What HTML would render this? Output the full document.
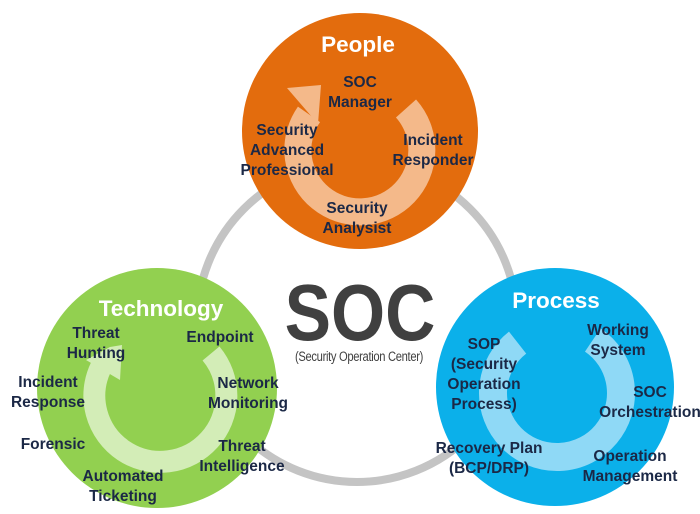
<!DOCTYPE html>
<html><head><meta charset="utf-8"><style>
html,body{margin:0;padding:0;background:#fff;}
svg{display:block;}
.t{font-family:"Liberation Sans",sans-serif;font-weight:bold;font-size:15.5px;fill:#1b2846;text-anchor:middle;}
.h{font-family:"Liberation Sans",sans-serif;font-weight:bold;font-size:22.5px;fill:#fff;text-anchor:middle;}
</style></head><body>
<svg width="700" height="514" viewBox="0 0 700 514" xmlns="http://www.w3.org/2000/svg">
<circle cx="357" cy="322" r="160" fill="none" stroke="#c4c4c4" stroke-width="8"/>
<!-- People -->
<circle cx="360" cy="131" r="118" fill="#e36c0d"/>
<path d="M406 108.5 A62 62 0 1 1 309 114.4" fill="none" stroke="#f4b98a" stroke-width="27"/>
<polygon points="287,88 321,85 318,124" fill="#f4b98a"/>
<!-- Technology -->
<circle cx="157" cy="388" r="120" fill="#92d050"/>
<path d="M211 353.5 A66 66 0 1 1 101 367" fill="none" stroke="#d3edb7" stroke-width="22"/>
<polygon points="86,360 110,347 122,345 120,380" fill="#d3edb7"/>
<!-- Process -->
<circle cx="555" cy="387" r="119" fill="#0bb0ea"/>
<path d="M517.6 342.6 A64 64 0 1 0 592.8 340" fill="none" stroke="#8fd9f6" stroke-width="28"/>
<!-- SOC -->
<text x="360" y="340" font-family="Liberation Sans, sans-serif" font-weight="bold" font-size="80" fill="#404040" text-anchor="middle" transform="translate(360 0) scale(0.87 1) translate(-360 0)">SOC</text>
<text x="359" y="361" font-family="Liberation Sans, sans-serif" font-size="14" fill="#404040" text-anchor="middle" transform="translate(359 0) scale(0.8 1) translate(-359 0)" letter-spacing="-0.4">(Security Operation Center)</text>
<!-- titles -->
<text class="h" x="358" y="52">People</text>
<text class="h" x="161" y="316">Technology</text>
<text class="h" x="556" y="308">Process</text>
<!-- People labels -->
<text class="t" x="360" y="87">SOC</text>
<text class="t" x="360" y="107">Manager</text>
<text class="t" x="287" y="135">Security</text>
<text class="t" x="287" y="155">Advanced</text>
<text class="t" x="287" y="175">Professional</text>
<text class="t" x="433" y="145">Incident</text>
<text class="t" x="433" y="165">Responder</text>
<text class="t" x="357" y="213">Security</text>
<text class="t" x="357" y="233">Analysist</text>
<!-- Tech labels -->
<text class="t" x="96" y="338">Threat</text>
<text class="t" x="96" y="358">Hunting</text>
<text class="t" x="220" y="342">Endpoint</text>
<text class="t" x="248" y="388">Network</text>
<text class="t" x="248" y="408">Monitoring</text>
<text class="t" x="48" y="387">Incident</text>
<text class="t" x="48" y="407">Response</text>
<text class="t" x="53" y="449">Forensic</text>
<text class="t" x="242" y="451">Threat</text>
<text class="t" x="242" y="471">Intelligence</text>
<text class="t" x="123" y="481">Automated</text>
<text class="t" x="123" y="501">Ticketing</text>
<!-- Process labels -->
<text class="t" x="484" y="349">SOP</text>
<text class="t" x="484" y="369">(Security</text>
<text class="t" x="484" y="389">Operation</text>
<text class="t" x="484" y="409">Process)</text>
<text class="t" x="618" y="335">Working</text>
<text class="t" x="618" y="355">System</text>
<text class="t" x="650" y="397">SOC</text>
<text class="t" x="650" y="417">Orchestration</text>
<text class="t" x="489" y="453">Recovery Plan</text>
<text class="t" x="489" y="473">(BCP/DRP)</text>
<text class="t" x="630" y="461">Operation</text>
<text class="t" x="630" y="481">Management</text>
</svg>
</body></html>
